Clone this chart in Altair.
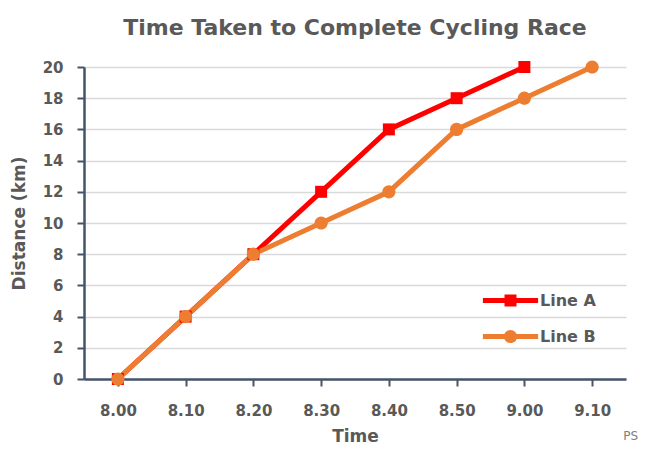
import altair as alt
import pandas as pd

times = ["8.00", "8.10", "8.20", "8.30", "8.40", "8.50", "9.00", "9.10"]
line_a = [0, 4, 8, 12, 16, 18, 20]
line_b = [0, 4, 8, 10, 12, 16, 18, 20]
series_names = ["Line A", "Line B"]
marker_keys = ["A", "B"]
series_colors = ["#ff0000", "#ed7d31"]

rows = [{"time": t, "dist": v, "series": "Line A", "key": "A"} for t, v in zip(times, line_a)]
rows += [{"time": t, "dist": v, "series": "Line B", "key": "B"} for t, v in zip(times, line_b)]
df = pd.DataFrame(rows)

FONT = "DejaVu Sans"
TXT = "#595959"
AX = "#44546a"

SQUARE = "M-0.5,-0.5H0.5V0.5H-0.5Z"
CIRCLE = "M0.55,0A0.55,0.55,0,1,1,-0.55,0A0.55,0.55,0,1,1,0.55,0"
LINE_SYM = "M-2.3,0H2.3"

common_legend = dict(
    title=None, orient="none", legendX=412, legendY=219,
    symbolSize=576, symbolStrokeWidth=5, labelFontSize=16, labelFont=FONT,
    labelFontWeight="bold", labelOffset=15, padding=0, labelLimit=200,
)

line_legend = alt.Legend(symbolType=LINE_SYM, labelColor=TXT, zindex=1, rowPadding=11,
                         **common_legend)
marker_legend = alt.Legend(labelOpacity=0, labelColor=TXT, symbolStrokeColor="transparent",
                           zindex=2, rowPadding=2, **common_legend)

x = alt.X("time:N", sort=times,
          scale=alt.Scale(type="point", padding=0.5),
          axis=alt.Axis(title="Time", labelAngle=0, grid=False,
                        labelFont=FONT, labelFontSize=15, labelFontWeight="bold", labelColor=TXT,
                        labelPadding=17,
                        titleFont=FONT, titleFontSize=17, titleFontWeight="bold", titleColor=TXT,
                        titlePadding=10,
                        domainColor=AX, domainWidth=2.5, tickColor=AX, tickWidth=2, tickSize=7))

y = alt.Y("dist:Q", scale=alt.Scale(domain=[0, 20]),
          axis=alt.Axis(title="Distance (km)", values=list(range(0, 21, 2)),
                        grid=True, gridColor="#d9d9d9", gridWidth=1.5,
                        labelFont=FONT, labelFontSize=15, labelFontWeight="bold", labelColor=TXT,
                        labelPadding=14,
                        titleFont=FONT, titleFontSize=17, titleFontWeight="bold", titleColor=TXT,
                        titlePadding=14,
                        domainColor=AX, domainWidth=2.5, tickColor=AX, tickWidth=2, tickSize=7))

lines = alt.Chart(df).mark_line(strokeWidth=5).encode(
    x=x, y=y,
    stroke=alt.Stroke("series:N",
                      scale=alt.Scale(domain=series_names, range=series_colors),
                      legend=line_legend),
)

points = alt.Chart(df).mark_point(filled=True, opacity=1, size=576).encode(
    x=x, y=y,
    color=alt.Color("key:N", scale=alt.Scale(domain=marker_keys, range=series_colors),
                    legend=marker_legend),
    shape=alt.Shape("key:N", scale=alt.Scale(domain=marker_keys, range=[SQUARE, CIRCLE]),
                    legend=marker_legend),
)

ps = alt.Chart(pd.DataFrame({"t": ["PS"]})).mark_text(
    font=FONT, fontSize=12, color="#808080", align="right", baseline="middle"
).encode(x=alt.value(554), y=alt.value(369), text="t:N")

chart = alt.layer(lines, points, ps).properties(
    width=542, height=312,
    title=alt.Title("Time Taken to Complete Cycling Race", fontSize=22, font=FONT,
                    fontWeight="bold", color=TXT, offset=17, anchor="middle"),
    autosize=alt.AutoSizeParams(type="none"),
    padding={"left": 76, "top": 59, "right": 14, "bottom": 65},
).configure_view(stroke=None)

chart.save("out.html", embed_options={"renderer": "svg", "actions": False})
